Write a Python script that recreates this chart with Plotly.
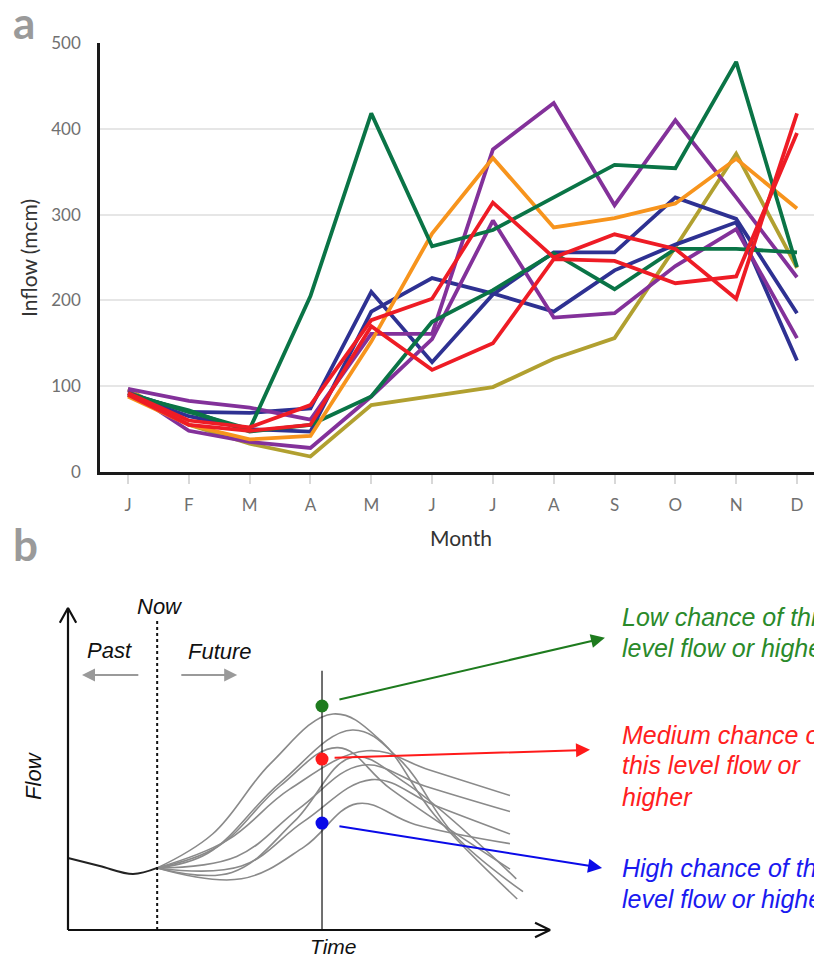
import plotly.graph_objects as go

# ---------------- Panel a data ----------------
months = ['J', 'F', 'M', 'A', 'M', 'J', 'J', 'A', 'S', 'O', 'N', 'D']
month_idx = list(range(12))

green_1 = [92, 70, 50, 205, 418, 263, 282, 320, 358, 354, 478, 239]
green_2 = [90, 72, 47, 55, 88, 175, 212, 255, 213, 260, 260, 256]
orange_1 = [88, 55, 38, 42, 152, 278, 366, 285, 296, 313, 365, 307]
purple_1 = [97, 83, 75, 61, 161, 161, 376, 430, 311, 410, 320, 227]
purple_2 = [95, 48, 35, 28, 88, 155, 293, 180, 185, 240, 283, 156]
blue_1 = [92, 70, 69, 74, 210, 128, 207, 256, 256, 320, 295, 185]
blue_2 = [90, 65, 50, 47, 187, 226, 208, 187, 235, 265, 291, 130]
red_1 = [92, 60, 52, 78, 177, 202, 314, 250, 277, 260, 202, 418]
red_2 = [90, 55, 48, 55, 170, 119, 150, 248, 246, 220, 228, 395]
olive_1 = [97, 55, 33, 18, 78, 88, 99, 132, 156, 262, 371, 238]

y_ticks = [0, 100, 200, 300, 400, 500]

series = [
    (olive_1, '#B1A030'),
    (blue_1, '#2E3192'),
    (blue_2, '#2E3192'),
    (purple_2, '#83319A'),
    (purple_1, '#83319A'),
    (green_2, '#0A7446'),
    (orange_1, '#F7941D'),
    (green_1, '#0A7446'),
    (red_2, '#EE1C25'),
    (red_1, '#EE1C25'),
]

# ---------------- Panel b data (schematic units) ----------------
past_t = [0.0, 0.66, 1.35, 1.85]
past_f = [2.25, 2.0, 1.75, 1.94]

ens_t = [
    [1.85, 3.0, 4.2, 5.5, 6.5, 7.6, 9.32],
    [1.85, 2.9, 4.4, 5.9, 6.9, 8.0, 9.44],
    [1.85, 3.1, 4.4, 5.6, 6.7, 9.17],
    [1.85, 3.3, 4.6, 6.2, 7.5, 9.17],
    [1.85, 3.5, 4.8, 6.1, 7.4, 9.17],
    [1.85, 3.6, 4.9, 6.3, 7.6, 9.17],
    [1.85, 3.6, 4.9, 6.0, 7.2, 9.17],
    [1.85, 3.4, 4.7, 5.9, 7.0, 9.3],
]
ens_f = [
    [1.94, 3.0, 5.2, 6.75, 5.9, 3.6, 0.97],
    [1.94, 2.4, 4.6, 6.25, 5.3, 3.0, 1.2],
    [1.94, 2.6, 4.5, 5.7, 4.4, 1.9],
    [1.94, 2.8, 4.4, 5.6, 5.0, 4.2],
    [1.94, 2.3, 3.8, 5.15, 4.5, 3.7],
    [1.94, 2.0, 3.4, 4.7, 3.9, 3.0],
    [1.94, 1.6, 2.6, 3.95, 3.3, 2.7],
    [1.94, 1.8, 3.4, 5.4, 4.6, 1.6],
]

now_t = 1.85
time_t = 5.27
dot_f = [7.0, 5.34, 3.34]
dot_colors = ['#1E7B1E', '#FF1A1A', '#0A0AE8']
text_colors = ['#2A8A2A', '#FF2020', '#1A1AF0']
arrow_tail = [(5.6, 7.19), (5.5, 5.38), (5.6, 3.25)]
arrow_head = [(11.14, 9.13), (10.83, 5.63), (11.08, 1.94)]
label_lines = [
    ['Low chance of this', 'level flow or higher'],
    ['Medium chance of', 'this level flow or', 'higher'],
    ['High chance of this', 'level flow or higher'],
]
label_f = [[9.78, 8.81], [6.09, 5.16, 4.16], [1.94, 0.97]]
label_t = 11.45

# page is offset by the 8px body margin; size the figure so it fills the window
OFF = 8
W, H = 822 - OFF, 961 - OFF


def pxx(x):
    return (x - OFF) / W


def pxy(y):
    return 1 - (y - OFF) / H


fig = go.Figure()

for vals, col in series:
    fig.add_trace(go.Scatter(x=month_idx, y=vals, mode='lines',
                             line=dict(color=col, width=3.8),
                             xaxis='x', yaxis='y', showlegend=False,
                             hoverinfo='skip'))

# panel b traces
for t, f in zip(ens_t, ens_f):
    fig.add_trace(go.Scatter(x=t, y=f, mode='lines',
                             line=dict(color='#8A8A8A', width=1.6, shape='spline', smoothing=1.1),
                             xaxis='x2', yaxis='y2', showlegend=False, hoverinfo='skip'))
fig.add_trace(go.Scatter(x=past_t, y=past_f, mode='lines',
                         line=dict(color='#222', width=2, shape='spline'),
                         xaxis='x2', yaxis='y2', showlegend=False, hoverinfo='skip'))
# axes with chevron heads
fig.add_trace(go.Scatter(x=[0, 0, None, -0.17, 0, 0.17], y=[0, 10.06, None, 9.6, 10.06, 9.6],
                         mode='lines', line=dict(color='#111', width=2.2),
                         xaxis='x2', yaxis='y2', showlegend=False, hoverinfo='skip'))
fig.add_trace(go.Scatter(x=[0, 10.0, None, 9.69, 10.0, 9.69], y=[0, 0, None, 0.23, 0, -0.23],
                         mode='lines', line=dict(color='#111', width=2.2),
                         xaxis='x2', yaxis='y2', showlegend=False, hoverinfo='skip'))
fig.add_trace(go.Scatter(x=[now_t, now_t], y=[0, 9.7], mode='lines',
                         line=dict(color='#111', width=2, dash='dot'),
                         xaxis='x2', yaxis='y2', showlegend=False, hoverinfo='skip'))
fig.add_trace(go.Scatter(x=[time_t, time_t], y=[0, 8.1], mode='lines',
                         line=dict(color='#111', width=1.2),
                         xaxis='x2', yaxis='y2', showlegend=False, hoverinfo='skip'))
fig.add_trace(go.Scatter(x=[time_t] * 3, y=dot_f, mode='markers',
                         marker=dict(color=dot_colors, size=13),
                         xaxis='x2', yaxis='y2', showlegend=False, hoverinfo='skip'))

annotations = []
for (tt, tf), (ht, hf), col in zip(arrow_tail, arrow_head, dot_colors):
    annotations.append(dict(x=ht, y=hf, xref='x2', yref='y2', ax=tt, ay=tf,
                            axref='x2', ayref='y2', showarrow=True, arrowhead=2,
                            arrowsize=1.4, arrowwidth=2, arrowcolor=col, text=''))
annotations.append(dict(x=0.29, y=7.97, xref='x2', yref='y2', ax=1.49, ay=7.97,
                        axref='x2', ayref='y2', showarrow=True, arrowhead=2,
                        arrowsize=1.3, arrowwidth=2, arrowcolor='#9A9A9A', text=''))
annotations.append(dict(x=3.51, y=7.97, xref='x2', yref='y2', ax=2.32, ay=7.97,
                        axref='x2', ayref='y2', showarrow=True, arrowhead=2,
                        arrowsize=1.3, arrowwidth=2, arrowcolor='#9A9A9A', text=''))
bfont = 'Liberation Sans, Arial, sans-serif'
for txt, t, f, fsz in [('Now', 1.91, 10.1, 22), ('Past', 0.87, 8.75, 22), ('Future', 3.15, 8.69, 22),
                       ('Time', 5.5, -0.53, 21)]:
    annotations.append(dict(x=t, y=f, xref='x2', yref='y2', text='<i>%s</i>' % txt,
                            xanchor='center', yanchor='middle',
                            showarrow=False, font=dict(family=bfont, size=fsz, color='#111')))
annotations.append(dict(x=-0.73, y=4.84, xref='x2', yref='y2', text='<i>Flow</i>', textangle=-90,
                        xanchor='center', yanchor='middle',
                        showarrow=False, font=dict(family=bfont, size=22, color='#111')))
for lines, fs, col in zip(label_lines, label_f, text_colors):
    for ln, f in zip(lines, fs):
        annotations.append(dict(x=label_t, y=f, xref='x2', yref='y2', text='<i>%s</i>' % ln,
                                xanchor='left', yanchor='middle', showarrow=False,
                                font=dict(family=bfont, size=25, color=col)))

afont = 'Lato, sans-serif'
annotations.append(dict(x=pxx(28), y=pxy(258), xref='paper', yref='paper', text='Inflow (mcm)',
                        xanchor='center', yanchor='middle',
                        textangle=-90, showarrow=False, font=dict(family=afont, size=21, color='#333')))
annotations.append(dict(x=pxx(461), y=pxy(537), xref='paper', yref='paper', text='Month',
                        xanchor='center', yanchor='middle',
                        showarrow=False, font=dict(family=afont, size=21, color='#333')))
annotations.append(dict(x=pxx(24), y=pxy(22), xref='paper', yref='paper', text='<b>a</b>',
                        xanchor='center', yanchor='middle',
                        showarrow=False, font=dict(family=afont, size=44, color='#9A9A9A')))
annotations.append(dict(x=pxx(25), y=pxy(544), xref='paper', yref='paper', text='<b>b</b>',
                        xanchor='center', yanchor='middle',
                        showarrow=False, font=dict(family=afont, size=44, color='#9A9A9A')))

x0a = -(128 - 100) / 60.82
x1a = 11 + (822 - 797) / 60.82

sx = 48.2
sy = 32.0
y2_top_frac = 0.45
fig_t0 = 68 - OFF     # t=0 in figure px
fig_f0 = 930 - OFF    # f=0 in figure px
fig.update_layout(
    width=W, height=H,
    margin=dict(l=0, r=0, t=0, b=0, autoexpand=False),
    paper_bgcolor='white', plot_bgcolor='rgba(0,0,0,0)',
    xaxis=dict(domain=[pxx(100), 1.0], range=[x0a, x1a], tickvals=month_idx, ticktext=months,
               showgrid=False, zeroline=False, showline=True, linecolor='#1a1a1a', linewidth=2.5,
               ticks='outside', ticklen=9, tickcolor='#d8d8d8', tickwidth=1.5,
               ticklabelstandoff=7, automargin=False,
               tickfont=dict(family=afont, size=17, color='#707070'), fixedrange=True),
    yaxis=dict(domain=[pxy(472), pxy(43)], range=[0, 500], tickvals=y_ticks,
               showgrid=True, gridcolor='#e6e6e6', gridwidth=2, zeroline=False,
               showline=True, linecolor='#1a1a1a', linewidth=2.5, ticks='',
               ticklabelstandoff=13, automargin=False,
               tickfont=dict(family=afont, size=17, color='#707070'), fixedrange=True),
    xaxis2=dict(domain=[0, 1], range=[-fig_t0 / sx, (W - fig_t0) / sx], visible=False,
                fixedrange=True, automargin=False),
    yaxis2=dict(domain=[0, y2_top_frac],
                range=[(fig_f0 - H) / sy, (fig_f0 - (H - y2_top_frac * H)) / sy],
                visible=False, fixedrange=True, automargin=False),
    annotations=annotations,
)

fig.write_html('out.html')
